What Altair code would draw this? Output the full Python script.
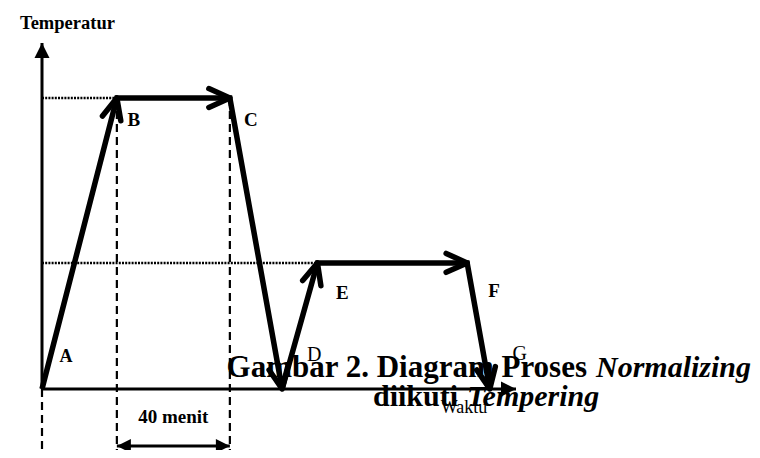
import math
import altair as alt
import pandas as pd

# ---- data ----
points = ["A", "B", "C", "D", "E", "F", "G"]
times = [0, 26.5, 66.5, 85, 97.5, 150.5, 158.5]      # menit
temps = [0, 900, 900, 0, 390, 390, 0]                 # suhu (relatif)
hold_minutes = 40
hold_label = "40 menit"
y_title = "Temperatur"
x_title = "Waktu"
caption1 = ["Gambar 2. Diagram Proses", "Normalizing"]
caption2 = ["diikuti", "Tempering"]

# ---- layout (styles / sizes) ----
W, H = 744, 442
PXM = 113 / 40          # px per minute
PXT = 291 / 900         # px per degree
OX, OY = 34, 381        # origin inside plot area (px)
FONT = "Liberation Serif"

xs = alt.Scale(domain=[-OX / PXM, (W - OX) / PXM], nice=False, zero=False)
ys = alt.Scale(domain=[-(H - OY) / PXT, OY / PXT], nice=False, zero=False)

def X(f):
    return alt.X(f, type="quantitative", scale=xs, axis=None)

def Y(f):
    return alt.Y(f, type="quantitative", scale=ys, axis=None)

df = pd.DataFrame({"name": points, "t": times, "T": temps, "i": range(len(points))})
df["t0"] = 0

# arrowhead angles (screen space) for each segment end
ang = [None]
for k in range(1, len(points)):
    dx = (times[k] - times[k - 1]) * PXM
    dy = -(temps[k] - temps[k - 1]) * PXT
    ang.append(math.degrees(math.atan2(dy, dx)) % 360)
heads = df.iloc[1:].copy()
heads["angle"] = ang[1:]

CHEVRON = "M-1,-0.45L0,0L-1,0.45"
TRI = "M0,0L-1,-0.5L-1,0.5Z"

base = alt.Chart(df)

dotted = base.transform_filter(alt.FieldOneOfPredicate(field="name", oneOf=["B", "E"])).mark_rule(
    color="black", strokeWidth=2.5, strokeDash=[2, 1.2]
).encode(x=X("t0"), x2="t", y=Y("T"))

dashed = base.transform_filter(alt.FieldOneOfPredicate(field="name", oneOf=["A", "B", "C"])).mark_rule(
    color="black", strokeWidth=2.2, strokeDash=[8, 5]
).encode(x=X("t"), y=Y("T"), y2=alt.value(H))

origin = base.transform_filter(alt.datum.name == "A")
y_axis = origin.mark_rule(color="black", strokeWidth=3).encode(x=X("t"), y=Y("T"), y2=alt.value(35))
x_axis = origin.mark_rule(color="black", strokeWidth=3).encode(x=X("t"), x2=alt.value(508), y=Y("T"))
y_tip = origin.mark_point(shape=TRI, filled=True, size=900, color="black", opacity=1, angle=270).encode(
    x=X("t"), y=alt.value(35))
x_tip = origin.mark_point(shape=TRI, filled=True, size=900, color="black", opacity=1, angle=0).encode(
    x=alt.value(508), y=Y("T"))

path = base.mark_line(color="black", strokeWidth=5.5).encode(x=X("t"), y=Y("T"), order="i:Q")

chev = alt.Chart(heads).mark_point(
    shape=CHEVRON, filled=False, size=1764, color="black", strokeWidth=5.5, opacity=1,
    strokeCap="round", strokeJoin="round"
).encode(x=X("t"), y=Y("T"), angle=alt.Angle("angle:Q", scale=None))

# 40 menit double arrow
hold = pd.DataFrame({"t": [times[1]], "t2": [times[1] + hold_minutes],
                     "tm": [times[1] + hold_minutes / 2], "label": [hold_label]})
hold_rule = alt.Chart(hold).mark_rule(color="black", strokeWidth=3).encode(
    x=X("t"), x2="t2", y=alt.value(438))
hold_ends = pd.DataFrame({"t": [times[1], times[1] + hold_minutes], "angle": [180, 0]})
hold_tips = alt.Chart(hold_ends).mark_point(shape=TRI, filled=True, size=784, color="black", opacity=1).encode(
    x=X("t"), y=alt.value(438), angle=alt.Angle("angle:Q", scale=None))
hold_text = alt.Chart(hold).mark_text(font=FONT, fontSize=19, fontWeight="bold", align="center",
                                      baseline="alphabetic", color="black").encode(
    x=X("tm"), y=alt.value(415), text="label:N")

# point labels with pixel offsets
offsets = {"A": (24, -27, "bold", 18), "B": (17, 28, "bold", 19), "C": (21, 28, "bold", 19),
           "D": (32, -28, "normal", 20), "E": (25, 36, "bold", 19), "F": (27, 34, "bold", 19),
           "G": (30, -29, "normal", 20)}
labels = []
for n, (dx, dy, fw, fs) in offsets.items():
    labels.append(base.transform_filter(alt.datum.name == n).mark_text(
        font=FONT, fontSize=fs, fontWeight=fw, align="center", baseline="alphabetic",
        dx=dx, dy=dy, color="black").encode(x=X("t"), y=Y("T"), text="name:N"))

def txt(s, x, y, size, weight="bold", style="normal", align="left"):
    return alt.Chart(pd.DataFrame({"s": [s]})).mark_text(
        font=FONT, fontSize=size, fontWeight=weight, fontStyle=style, align=align,
        baseline="alphabetic", color="black").encode(x=alt.value(x), y=alt.value(y), text="s:N")

texts = [
    txt(y_title, 12, 20.5, 18.5),
    txt(x_title, 456, 405, 18, weight="normal", align="center"),
    txt(caption1[0], 579, 369, 31, align="right"),
    txt(caption1[1], 588, 369, 30, style="italic"),
    txt(caption2[0], 365, 398, 30),
    txt(caption2[1], 459, 398, 30, style="italic"),
]

chart = alt.layer(
    dotted, dashed, y_axis, x_axis, y_tip, x_tip, path, chev,
    hold_rule, hold_tips, hold_text, *labels, *texts
).properties(
    width=W, height=H, padding=0, autosize=alt.AutoSizeParams(type="none")
).configure_view(stroke=None)

chart.save("out.html", embed_options={"renderer": "svg", "actions": False})
